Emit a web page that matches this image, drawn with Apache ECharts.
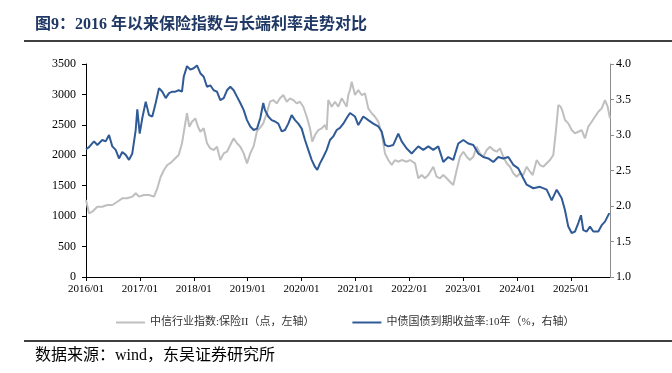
<!DOCTYPE html>
<html><head><meta charset="utf-8">
<script src="https://cdn.jsdelivr.net/npm/echarts@6/dist/echarts.min.js"></script>
<style>html,body{margin:0;padding:0;background:#fff}#c{width:672px;height:373px}</style>
</head><body><div id="c"></div>
<script>
const titleText = '图9：2016 年以来保险指数与长端利率走势对比';
const sourceText = '数据来源：wind，东吴证券研究所';
const seriesNames = ['中信行业指数:保险II（点，左轴）', '中债国债到期收益率:10年（%，右轴）'];
const tickLabels = ['2016/01','2017/01','2018/01','2019/01','2020/01','2021/01','2022/01','2023/01','2024/01','2025/01'];
const xStart = 2016, xEnd = 2025.722;

// decimal-year dates and values, 中信行业指数:保险II (点)
const insuranceDates = [2016.000,2016.056,2016.117,2016.210,2016.302,2016.395,2016.488,2016.581,2016.673,2016.766,2016.859,2016.922,2016.983,
2017.076,2017.169,2017.262,2017.323,2017.386,2017.447,2017.508,2017.577,2017.657,2017.720,2017.781,2017.831,2017.874,2017.917,2017.967,
2018.028,2018.078,2018.121,2018.184,2018.245,2018.306,2018.369,2018.430,2018.492,2018.555,2018.616,2018.677,2018.740,2018.801,2018.863,2018.926,2018.987,
2019.048,2019.111,2019.173,2019.228,2019.289,2019.353,2019.414,2019.475,2019.538,2019.599,2019.661,2019.724,2019.785,2019.846,2019.909,2019.970,
2020.032,2020.095,2020.156,2020.199,2020.249,2020.310,2020.373,2020.434,2020.466,2020.495,2020.558,2020.620,2020.681,2020.744,2020.774,2020.837,2020.866,2020.898,2020.930,2020.991,
2021.052,2021.115,2021.176,2021.237,2021.301,2021.362,2021.423,2021.486,2021.547,2021.609,2021.672,2021.733,2021.794,2021.857,2021.950,
2022.011,2022.104,2022.165,2022.228,2022.289,2022.351,2022.443,2022.506,2022.568,2022.629,2022.692,2022.753,2022.814,2022.878,2022.939,
2023.000,2023.063,2023.124,2023.186,2023.249,2023.310,2023.371,2023.434,2023.495,2023.557,2023.620,2023.681,2023.742,2023.805,2023.866,2023.928,2023.991,
2024.052,2024.113,2024.176,2024.238,2024.288,2024.362,2024.423,2024.484,2024.547,2024.609,2024.670,2024.720,2024.763,2024.807,2024.844,2024.887,2024.948,
2025.011,2025.072,2025.134,2025.197,2025.258,2025.319,2025.382,2025.443,2025.505,2025.568,2025.629,2025.679,2025.722];
const insuranceValues = [1265,1046,1073,1155,1155,1183,1183,1237,1293,1293,1320,1375,1320,
1347,1347,1320,1457,1648,1758,1840,1880,1950,2004,2197,2469,2690,2469,2552,
2607,2469,2387,2443,2197,2114,2087,2141,1922,2032,2059,2169,2279,2197,2141,2032,1868,
2032,2150,2400,2450,2525,2690,2880,2908,2853,2936,2990,2880,2936,2908,2853,2880,
2798,2634,2443,2223,2333,2415,2443,2497,2415,2908,2798,2880,2798,2936,2908,2798,2990,3073,3209,2990,
3073,2990,3018,2771,2690,2634,2552,2361,2032,1922,1840,1922,1894,1922,1894,
1922,1868,1622,1676,1622,1676,1812,1648,1622,1676,1622,1566,1511,1758,1977,
2059,1977,1922,1977,2141,2032,1977,2087,2141,2087,2059,2114,1977,1868,1812,1704,1648,
1704,1676,1812,1730,1676,1922,1840,1812,1868,1922,2004,2415,2826,2798,2716,2580,2525,
2415,2361,2387,2415,2279,2469,2552,2634,2716,2771,2908,2798,2607];

// decimal-year dates and values, 中债国债到期收益率:10年 (%)
const yieldDates = [2016.000,2016.056,2016.148,2016.210,2016.302,2016.365,2016.427,2016.488,2016.551,2016.612,2016.673,2016.737,2016.798,2016.859,2016.922,2016.952,2016.996,
2017.045,2017.108,2017.169,2017.230,2017.293,2017.354,2017.416,2017.479,2017.540,2017.601,2017.657,2017.720,2017.781,2017.813,2017.874,2017.935,2017.998,
2018.059,2018.121,2018.184,2018.245,2018.306,2018.369,2018.430,2018.492,2018.555,2018.616,2018.677,2018.740,2018.801,2018.863,2018.926,2018.987,
2019.048,2019.111,2019.173,2019.234,2019.289,2019.321,2019.382,2019.445,2019.507,2019.568,2019.631,2019.692,2019.753,2019.816,2019.878,2019.939,
2020.002,2020.063,2020.124,2020.187,2020.249,2020.291,2020.341,2020.403,2020.466,2020.527,2020.588,2020.651,2020.712,2020.774,2020.837,2020.898,2020.991,
2021.052,2021.145,2021.237,2021.330,2021.423,2021.486,2021.547,2021.609,2021.701,2021.794,2021.857,2021.950,
2022.043,2022.104,2022.165,2022.258,2022.351,2022.443,2022.536,2022.629,2022.722,2022.814,2022.907,
2023.000,2023.093,2023.186,2023.278,2023.371,2023.464,2023.557,2023.649,2023.742,2023.835,2023.928,
2024.020,2024.113,2024.176,2024.299,2024.423,2024.547,2024.640,2024.733,2024.826,2024.887,2024.948,
2025.011,2025.072,2025.134,2025.184,2025.226,2025.289,2025.351,2025.412,2025.505,2025.568,2025.629,2025.709];
const yieldValues = [2.80,2.83,2.91,2.86,2.93,2.91,3.00,2.84,2.79,2.67,2.76,2.72,2.65,2.74,3.07,3.36,3.02,
3.24,3.47,3.28,3.26,3.45,3.66,3.61,3.52,3.59,3.61,3.61,3.63,3.61,3.82,3.97,3.92,3.94,
3.98,3.87,3.82,3.68,3.70,3.63,3.61,3.49,3.52,3.63,3.68,3.63,3.54,3.45,3.35,3.21,
3.12,3.07,3.09,3.24,3.45,3.35,3.26,3.21,3.19,3.16,3.05,3.07,3.16,3.28,3.21,3.16,
3.09,2.93,2.79,2.65,2.55,2.51,2.60,2.69,2.79,2.93,2.98,3.07,3.10,3.16,3.24,3.31,3.26,
3.14,3.26,3.21,3.16,3.12,3.05,2.86,2.84,2.86,3.02,2.91,2.81,
2.74,2.79,2.84,2.79,2.84,2.79,2.84,2.62,2.69,2.65,2.88,
2.93,2.88,2.86,2.74,2.69,2.67,2.62,2.69,2.67,2.69,2.58,
2.53,2.39,2.30,2.25,2.27,2.23,2.08,2.23,2.11,1.94,1.71,
1.62,1.64,1.76,1.87,1.66,1.64,1.71,1.64,1.64,1.73,1.78,1.90];

const serif = "'Liberation Serif', 'Noto Sans CJK SC', serif";
const chart = echarts.init(document.getElementById('c'), null, {renderer: 'canvas'});
chart.setOption({
  animation: false,
  backgroundColor: '#fff',
  grid: {left: 86, right: 62, top: 64, bottom: 96, containLabel: false},
  graphic: [
    {type: 'text', left: 35, top: 17, style: {text: titleText, font: "bold 16px 'Liberation Serif', 'Noto Sans CJK SC'", fill: '#1F3864'}},
    {type: 'line', shape: {x1: 24, y1: 41, x2: 672, y2: 41}, style: {stroke: '#000', lineWidth: 1.5}},
    {type: 'line', shape: {x1: 24, y1: 341, x2: 672, y2: 341}, style: {stroke: '#000', lineWidth: 1.5}},
    {type: 'text', left: 35, top: 348, style: {text: sourceText, font: "16px 'Liberation Serif', 'Noto Sans CJK SC'", fill: '#000'}}
  ],
  legend: {
    left: 111, top: 312, itemWidth: 29, itemHeight: 2, itemGap: 38, icon: 'rect',
    textStyle: {fontFamily: serif, fontSize: 11, color: '#333'},
    data: seriesNames
  },
  xAxis: {
    type: 'value', min: xStart, max: xEnd, interval: 1,
    axisLine: {show: true, lineStyle: {color: '#000', width: 1}},
    axisTick: {show: true, inside: false, length: 4, lineStyle: {color: '#000'}},
    axisLabel: {fontFamily: serif, fontSize: 11, color: '#000', margin: 7, showMaxLabel: false,
      formatter: v => { const i = Math.round(v - xStart); return Math.abs(v - xStart - i) < 1e-6 && tickLabels[i] ? tickLabels[i] : ''; }},
    splitLine: {show: false}
  },
  yAxis: [
    {type: 'value', min: 0, max: 3500, interval: 500, position: 'left',
      axisLine: {show: true, lineStyle: {color: '#000', width: 1}},
      axisTick: {show: true, inside: false, length: 4, lineStyle: {color: '#000'}},
      axisLabel: {fontFamily: serif, fontSize: 12, color: '#000', margin: 10, formatter: v => String(v)},
      splitLine: {show: false}},
    {type: 'value', min: 1, max: 4, interval: 0.5, position: 'right',
      axisLine: {show: true, lineStyle: {color: '#8c8c8c', width: 1}},
      axisTick: {show: true, inside: false, length: 4, lineStyle: {color: '#8c8c8c'}},
      axisLabel: {fontFamily: serif, fontSize: 12, color: '#000', margin: 6, formatter: v => v.toFixed(1)},
      splitLine: {show: false}}
  ],
  series: [
    {name: seriesNames[0], type: 'line', yAxisIndex: 0, showSymbol: false, symbol: 'none',
      lineStyle: {color: '#BFBFBF', width: 2}, itemStyle: {color: '#BFBFBF'},
      data: insuranceDates.map((d, i) => [d, insuranceValues[i]])},
    {name: seriesNames[1], type: 'line', yAxisIndex: 1, showSymbol: false, symbol: 'none',
      lineStyle: {color: '#2F5A96', width: 2}, itemStyle: {color: '#2F5A96'},
      data: yieldDates.map((d, i) => [d, yieldValues[i]])}
  ]
});
</script></body></html>
